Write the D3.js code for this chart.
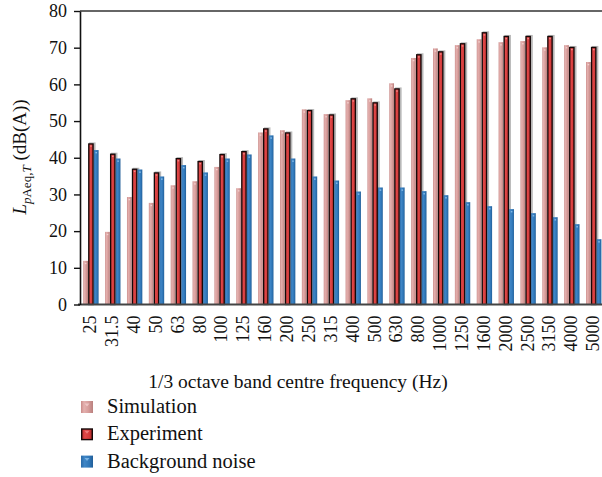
<!DOCTYPE html>
<html>
<head>
<meta charset="utf-8">
<script src="https://cdn.jsdelivr.net/npm/d3@7"></script>
<style>
  html, body { margin: 0; padding: 0; background: #fff; overflow: hidden; }
  svg { display: block; font-family: "Liberation Serif", "DejaVu Serif", serif; }
</style>
</head>
<body>
<svg id="chart" width="602" height="477"></svg>
<script>
// 1/3 octave band centre frequencies (Hz)
const bands = ["25", "31.5", "40", "50", "63", "80", "100", "125", "160", "200", "250", "315",
  "400", "500", "630", "800", "1000", "1250", "1600", "2000", "2500", "3150", "4000", "5000"];

// Sound pressure levels L_pAeq,T in dB(A)
const simulation = [11.9, 19.8, 29.3, 27.7, 32.5, 33.6, 37.5, 31.7, 46.9, 47.5, 53.2, 51.9,
  55.7, 56.2, 60.3, 67.2, 69.8, 70.7, 72.3, 71.5, 71.8, 70.1, 70.7, 66.1];
const experiment = [43.9, 41.1, 37.0, 36.0, 39.9, 39.1, 41.0, 41.8, 48.0, 46.9, 53.0, 51.8,
  56.2, 55.1, 58.9, 68.2, 69.0, 71.2, 74.2, 73.2, 73.2, 73.2, 70.2, 70.2];
const background = [42.1, 39.8, 36.8, 34.9, 38.0, 36.0, 39.8, 40.9, 46.1, 39.8, 34.9, 33.8,
  30.8, 31.9, 31.9, 30.9, 29.8, 27.9, 26.8, 26.0, 24.9, 23.8, 21.9, 17.8];

const seriesNames = ["Simulation", "Experiment", "Background noise"];
const yTicks = [0, 10, 20, 30, 40, 50, 60, 70, 80];

const svg = d3.select("#chart");
const plotLeft = 80, plotTop = 11, plotBottom = 304.5;
const step = 21.86;
const plotRight = plotLeft + step * bands.length;

const x0 = d3.scaleBand().domain(bands).range([plotLeft, plotRight]).paddingInner(0.27).paddingOuter(0.135);
const x1 = d3.scaleBand().domain(seriesNames).range([0, x0.bandwidth()]);
const y = d3.scaleLinear().domain([0, 80]).range([plotBottom, plotTop]);

// Gradients give the bars their shaded, slightly rounded look
const defs = svg.append("defs");
function grad(id, stops) {
  const g = defs.append("linearGradient").attr("id", id).attr("x1", "0").attr("x2", "1").attr("y1", "0").attr("y2", "0");
  stops.forEach(([o, c]) => g.append("stop").attr("offset", o).attr("stop-color", c));
}
grad("gSim", [[0, "#c98a88"], [0.25, "#e4b0ae"], [0.6, "#d89e9c"], [1, "#b9807e"]]);
grad("gExp", [[0, "#b52a2a"], [0.3, "#e04848"], [0.7, "#d43c3c"], [1, "#a82626"]]);
grad("gBg", [[0, "#2a6aa8"], [0.3, "#3f86c6"], [0.7, "#2f76b7"], [1, "#215e98"]]);

const fills = { "Simulation": "url(#gSim)", "Experiment": "url(#gExp)", "Background noise": "url(#gBg)" };
const highlights = { "Simulation": "#f3d0ce", "Experiment": "#f08a8a", "Background noise": "#8cc0ec" };

const rows = bands.map((b, i) => ({
  band: b,
  values: [
    { key: "Simulation", value: simulation[i] },
    { key: "Experiment", value: experiment[i] },
    { key: "Background noise", value: background[i] }
  ]
}));

// Frame line along the top of the plot
svg.append("line").attr("x1", plotLeft).attr("x2", 602).attr("y1", plotTop).attr("y2", plotTop)
  .attr("stroke", "#333").attr("stroke-width", 1.6);

// Bars
const groups = svg.append("g").selectAll("g").data(rows).join("g")
  .attr("transform", d => `translate(${x0(d.band)},0)`);

groups.each(function (d) {
  const g = d3.select(this);
  d.values.forEach(v => {
    const bx = x1(v.key), bw = x1.bandwidth(), by = y(v.value), bh = plotBottom - y(v.value);
    if (v.key === "Experiment") {
      // soft grey drop shadow and black outline
      g.append("rect").attr("x", bx + 0.8).attr("y", by - 1).attr("width", bw + 1.2).attr("height", bh + 1)
        .attr("fill", "#9a9a9a").attr("opacity", 0.7);
      g.append("rect").attr("x", bx + 0.5).attr("y", by + 0.5).attr("width", bw - 1).attr("height", bh - 0.5)
        .attr("fill", fills[v.key]).attr("stroke", "#140808").attr("stroke-width", 1.3);
    } else {
      g.append("rect").attr("x", bx + 0.3).attr("y", by).attr("width", bw - 0.6).attr("height", bh)
        .attr("fill", fills[v.key]);
    }
    // small highlight near the top of each bar
    g.append("rect").attr("x", bx + bw * 0.35).attr("y", by + 2).attr("width", 1.6).attr("height", 1.3)
      .attr("fill", highlights[v.key]);
  });
});

// Baseline
svg.append("line").attr("x1", plotLeft - 2).attr("x2", 602).attr("y1", plotBottom).attr("y2", plotBottom)
  .attr("stroke", "#444").attr("stroke-width", 2);

// Y axis
const yAxis = svg.append("g").attr("transform", `translate(${plotLeft},0)`)
  .call(d3.axisLeft(y).tickValues(yTicks).tickSize(6).tickSizeOuter(0).tickPadding(7));
yAxis.select(".domain").attr("stroke", "#111").attr("stroke-width", 1.6);
yAxis.selectAll(".tick line").attr("stroke", "#111").attr("stroke-width", 1.4);
yAxis.selectAll(".tick text").attr("font-size", 18).attr("fill", "#111")
  .attr("font-family", "Liberation Serif, serif");

// X axis labels (rotated)
const xAxis = svg.append("g").attr("transform", `translate(0,${plotBottom})`)
  .call(d3.axisBottom(x0).tickSize(0).tickPadding(0));
xAxis.select(".domain").remove();
xAxis.selectAll(".tick text")
  .attr("font-size", 18).attr("fill", "#111").attr("font-family", "Liberation Serif, serif")
  .attr("text-anchor", "end").attr("dy", "0.3em")
  .attr("transform", "translate(0,11) rotate(-90)")
  .attr("x", 0).attr("y", 0);

// Y axis title: L_pAeq,T (dB(A))
const yt = svg.append("text").attr("transform", `translate(26,157) rotate(-90)`)
  .attr("text-anchor", "middle").attr("font-size", 19).attr("fill", "#111");
yt.append("tspan").attr("font-style", "italic").text("L");
yt.append("tspan").attr("font-size", 13).attr("dy", 5).attr("font-style", "italic").text("p");
yt.append("tspan").attr("font-size", 13).text("Aeq,");
yt.append("tspan").attr("font-size", 13).attr("font-style", "italic").text("T");
yt.append("tspan").attr("dy", -5).text(" (dB(A))");

// X axis title
svg.append("text").attr("x", 298).attr("y", 388).attr("text-anchor", "middle")
  .attr("font-size", 19.5).attr("fill", "#111").text("1/3 octave band centre frequency (Hz)");

// Legend
const legend = svg.append("g").selectAll("g").data(seriesNames).join("g")
  .attr("transform", (d, i) => `translate(81,${401 + i * 27.3})`);
legend.each(function (d) {
  const g = d3.select(this);
  if (d === "Experiment") {
    g.append("rect").attr("x", 0.7).attr("y", 0.7).attr("width", 10.6).attr("height", 10.6)
      .attr("fill", fills[d]).attr("stroke", "#140808").attr("stroke-width", 1.4);
  } else {
    g.append("rect").attr("width", 12).attr("height", 12).attr("fill", fills[d]);
  }
  g.append("path").attr("d", "M3.5,2.5 L8.5,2.5 L6,5.5 Z").attr("fill", highlights[d]).attr("opacity", 0.8);
  g.append("text").attr("x", 26).attr("y", 12).attr("font-size", 20.5).attr("fill", "#111").text(d);
});
</script>
</body>
</html>
